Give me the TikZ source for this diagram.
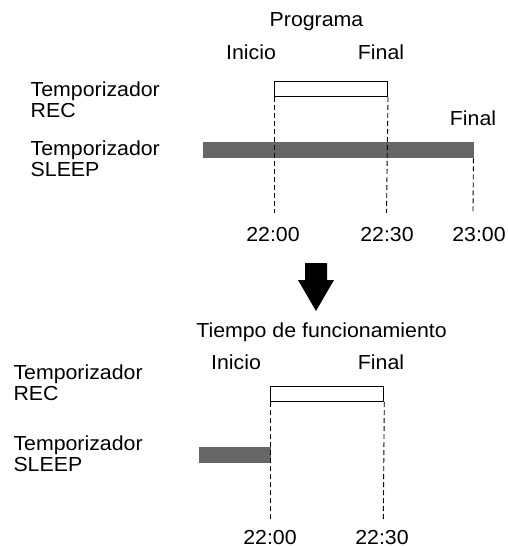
\documentclass[tikz,border=0pt]{standalone}
\usepackage{fontspec}
\setmainfont{Liberation Sans}[FakeStretch=1.05]
\definecolor{barg}{HTML}{666666}
\begin{document}
\begin{tikzpicture}[x=1pt,y=-1pt,
  lbl/.style={font=\fontsize{20.3}{21}\selectfont, inner sep=0pt, anchor=base},
  two/.style={lbl, align=left, anchor=base west},
  recbox/.style={draw, line width=1pt, fill=white, inner sep=0pt, anchor=north west},
  sleepbar/.style={fill=barg, draw=none, inner sep=0pt, anchor=north west},
  guide/.style={line width=0.9pt, dash pattern=on 5pt off 3pt}]
\useasboundingbox (0,0) rectangle (508,546);
% ---------- top ----------
\node[lbl] (prog) at (316.5,27) {Programa};
\node[lbl] (ini1) at (251,59) {Inicio};
\node[lbl] (fin1) at (381,59) {Final};
\node[lbl] (fin1b) at (473,125) {Final};
\node[two] (recl1) at (30.5,117) {Temporizador\\REC};
\node[two] (sll1) at (30.5,176) {Temporizador\\SLEEP};
\node[recbox, minimum width=113pt, minimum height=15.3pt] (rec1) at (274,80.7) {};
\node[sleepbar, minimum width=271pt, minimum height=16pt] (sl1) at (203,142) {};
\coordinate (d1a) at (274,213);
\coordinate (d1b) at (386.5,213);
\coordinate (d1c) at (473,213);
\draw[guide] (rec1.south west) -- (d1a);
\draw[guide] (rec1.south east) -- (d1b);
\draw[guide] (sl1.south east) ++(-1,0) -- (d1c);
\node[lbl] (t1a) at (273,241) {22:00};
\node[lbl] (t1b) at (387,241) {22:30};
\node[lbl] (t1c) at (479,241) {23:00};
% ---------- arrow ----------
\fill[black] (305,263) -- (327,263) -- (327,280) -- (334,280) -- (316,311)
  -- (298,280) -- (305,280) -- cycle;
% ---------- bottom ----------
\node[lbl] (tiempo) at (321.5,337) {Tiempo de funcionamiento};
\node[lbl] (ini2) at (236,369) {Inicio};
\node[lbl] (fin2) at (381,369) {Final};
\node[two] (recl2) at (13.3,400) {Temporizador\\REC};
\node[two] (sll2) at (13.3,471) {Temporizador\\SLEEP};
\node[recbox, minimum width=113pt, minimum height=15pt] (rec2) at (270.3,386) {};
\node[sleepbar, minimum width=71.5pt, minimum height=16pt] (sl2) at (199,447) {};
\coordinate (d2a) at (270.3,520);
\coordinate (d2b) at (383.3,520);
\draw[guide] (rec2.south west) -- (d2a);
\draw[guide] (rec2.south east) -- (d2b);
\node[lbl] (t2a) at (270,544.5) {22:00};
\node[lbl] (t2b) at (382,544.5) {22:30};
\end{tikzpicture}
\end{document}
